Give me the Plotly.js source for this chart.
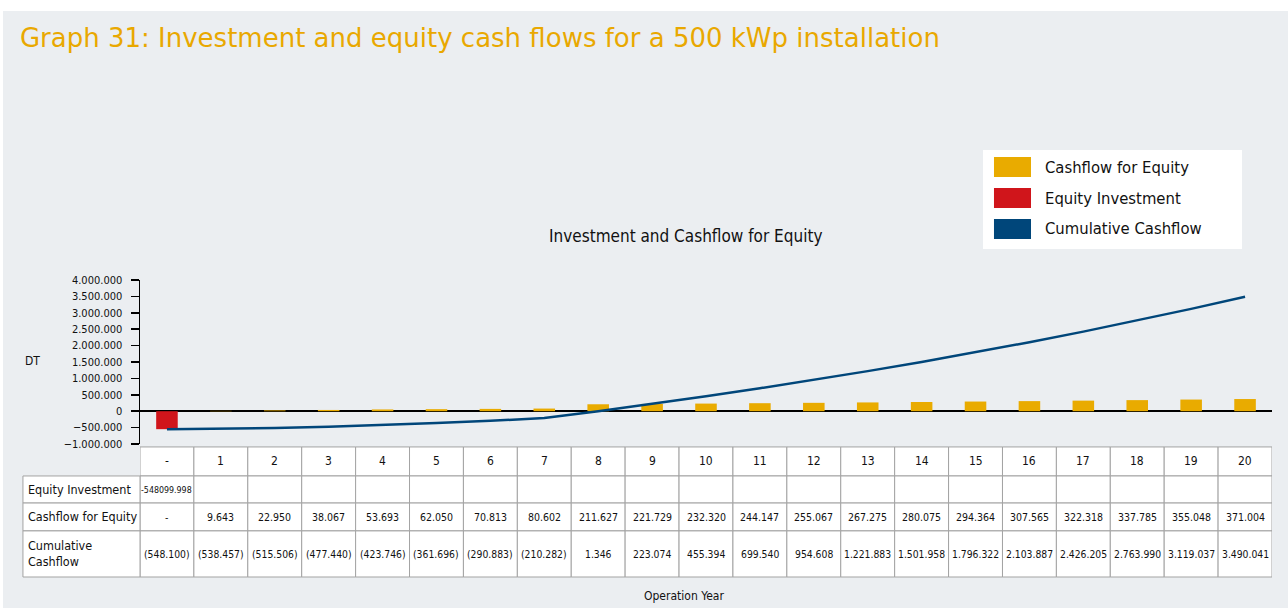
<!DOCTYPE html>
<html>
<head>
<meta charset="utf-8">
<script src="https://cdn.plot.ly/plotly-3.0.1.min.js"></script>
<style>
  html, body { margin: 0; padding: 0; background: #ffffff; }
  #chart { position: absolute; left: 3px; top: 11px; width: 1285px; height: 597px; }
</style>
</head>
<body>
<div id="chart"></div>
<script>
// ---------- DATA ----------
const categories = ['-', '1', '2', '3', '4', '5', '6', '7', '8', '9', '10',
  '11', '12', '13', '14', '15', '16', '17', '18', '19', '20'];
const equityInvestment = [-548099.998, null, null, null, null, null, null, null, null, null, null,
  null, null, null, null, null, null, null, null, null, null];
const cashflowEquity = [null, 9643, 22950, 38067, 53693, 62050, 70813, 80602, 211627, 221729, 232320,
  244147, 255067, 267275, 280075, 294364, 307565, 322318, 337785, 355048, 371004];
const cumulativeCashflow = [-548100, -538457, -515506, -477440, -423746, -361696, -290883, -210282,
  1346, 223074, 455394, 699540, 954608, 1221883, 1501958, 1796322, 2103887, 2426205, 2763990,
  3119037, 3490041];
const seriesNames = ['Cashflow for Equity', 'Equity Investment', 'Cumulative Cashflow'];
const rowLabels = ['Equity Investment', 'Cashflow for Equity', 'Cumulative<br>Cashflow'];
const yTickVals = [-1000000, -500000, 0, 500000, 1000000, 1500000, 2000000, 2500000, 3000000, 3500000, 4000000];

const colors = { cash: '#E9AB00', inv: '#D0151B', cum: '#00467A' };
const COND = 'DejaVu Sans Condensed, sans-serif';

function fmtThousands(v) {
  const s = Math.round(Math.abs(v)).toString().replace(/\B(?=(\d{3})+(?!\d))/g, '.');
  return v < 0 ? '(' + s + ')' : s;
}

// ---------- TRACES ----------
const traces = [
  { type: 'bar', x: categories, y: cashflowEquity, name: seriesNames[0],
    marker: { color: colors.cash }, showlegend: false, hoverinfo: 'skip' },
  { type: 'bar', x: categories, y: equityInvestment, name: seriesNames[1],
    marker: { color: colors.inv }, showlegend: false, hoverinfo: 'skip' },
  { type: 'scatter', mode: 'lines', x: categories, y: cumulativeCashflow, name: seriesNames[2],
    line: { color: colors.cum, width: 2.5 }, showlegend: false, hoverinfo: 'skip' }
];

// ---------- TABLE (shapes + annotations) ----------
const gridColor = '#A3A3A3';
const rowsY = [-0.018, -0.195, -0.360, -0.530, -0.811]; // paper-y boundaries of header + 3 rows
const labelX0 = -0.1034;
const shapes = [];
const annotations = [];
const txt = (extra) => Object.assign({ showarrow: false, yanchor: 'middle', xanchor: 'center' }, extra);

categories.forEach((c, i) => {
  for (let r = 0; r < 4; r++) {
    shapes.push({ type: 'rect', xref: 'x', yref: 'paper', x0: i - 0.5, x1: i + 0.5,
      y0: rowsY[r + 1], y1: rowsY[r], fillcolor: '#ffffff', line: { color: gridColor, width: 1 }, layer: 'below' });
  }
  annotations.push(txt({ xref: 'x', yref: 'paper', x: i, y: (rowsY[0] + rowsY[1]) / 2, text: c,
    font: { family: COND, size: 12, color: '#111' } }));
  const eqTxt = equityInvestment[i] == null ? '' : equityInvestment[i].toFixed(3);
  annotations.push(txt({ xref: 'x', yref: 'paper', x: i, y: (rowsY[1] + rowsY[2]) / 2, text: eqTxt,
    font: { family: COND, size: 8.8, color: '#111' } }));
  const cfTxt = cashflowEquity[i] == null ? '-' : fmtThousands(cashflowEquity[i]);
  annotations.push(txt({ xref: 'x', yref: 'paper', x: i, y: (rowsY[2] + rowsY[3]) / 2, text: cfTxt,
    font: { family: COND, size: 10.5, color: '#111' } }));
  annotations.push(txt({ xref: 'x', yref: 'paper', x: i, y: (rowsY[3] + rowsY[4]) / 2, text: fmtThousands(cumulativeCashflow[i]),
    font: { family: COND, size: 10.3, color: '#111' } }));
});
rowLabels.forEach((lab, r) => {
  shapes.push({ type: 'rect', xref: 'paper', yref: 'paper', x0: labelX0, x1: 0,
    y0: rowsY[r + 2], y1: rowsY[r + 1], fillcolor: '#ffffff', line: { color: gridColor, width: 1 }, layer: 'below' });
  annotations.push(txt({ xref: 'paper', yref: 'paper', x: labelX0 + 0.003, xanchor: 'left', align: 'left',
    y: (rowsY[r + 1] + rowsY[r + 2]) / 2, text: lab,
    font: { family: COND, size: 12.5, color: '#111' } }));
});

// ---------- CUSTOM LEGEND ----------
shapes.push({ type: 'rect', xref: 'paper', yref: 'paper', x0: 0.7447, x1: 0.9735, y0: 1.189, y1: 1.793,
  fillcolor: '#ffffff', line: { width: 0 } });
const legendY = [1.689, 1.5, 1.311];
const legendColors = [colors.cash, colors.inv, colors.cum];
seriesNames.forEach((n, k) => {
  shapes.push({ type: 'rect', xref: 'paper', yref: 'paper', x0: 0.7544, x1: 0.7871,
    y0: legendY[k] - 0.061, y1: legendY[k] + 0.061, fillcolor: legendColors[k], line: { width: 0 } });
  annotations.push(txt({ xref: 'paper', yref: 'paper', x: 0.7977, y: legendY[k], xanchor: 'left', text: n,
    font: { family: COND, size: 16.5, color: '#111' } }));
});

// subtitle, axis labels
annotations.push(txt({ xref: 'paper', yref: 'paper', x: 0.482, y: 1.268, text: 'Investment and Cashflow for Equity',
  font: { family: COND, size: 17, color: '#111' } }));
annotations.push(txt({ xref: 'paper', yref: 'paper', x: -0.0954, y: 0.506, text: 'DT',
  font: { family: COND, size: 12, color: '#111' } }));
annotations.push(txt({ xref: 'paper', yref: 'paper', x: 0.4806, y: -0.927, text: 'Operation Year',
  font: { family: COND, size: 12, color: '#111' } }));

const layout = {
  width: 1285, height: 597,
  margin: { l: 137, r: 16, t: 269, b: 164, pad: 0 },
  paper_bgcolor: '#EBEEF1', plot_bgcolor: '#EBEEF1',
  separators: ',.',
  barmode: 'overlay', bargap: 0.6,
  title: { text: 'Graph 31: Investment and equity cash flows for a 500 kWp installation',
    xref: 'container', yref: 'container', x: 0.0132, xanchor: 'left', y: 1 - 27 / 597, yanchor: 'middle',
    font: { family: 'DejaVu Sans, sans-serif', size: 26, color: '#E9A800' } },
  xaxis: { type: 'category', range: [-0.5, 20.5], showticklabels: false, ticks: '', showgrid: false,
    zeroline: false, showline: false, fixedrange: true },
  yaxis: { range: [-1000000, 4000000], tickvals: yTickVals, tickformat: ',d', showgrid: false,
    zeroline: true, zerolinecolor: '#000', zerolinewidth: 2.5,
    showline: true, linecolor: '#000', linewidth: 1.5, ticks: 'outside', ticklen: 8, tickwidth: 1.5, tickcolor: '#000',
    ticklabelstandoff: 6,
    tickfont: { family: COND, size: 11, color: '#111' }, fixedrange: true },
  shapes: shapes,
  annotations: annotations,
  showlegend: false
};

Plotly.newPlot('chart', traces, layout, { displayModeBar: false, staticPlot: true });
</script>
</body>
</html>
